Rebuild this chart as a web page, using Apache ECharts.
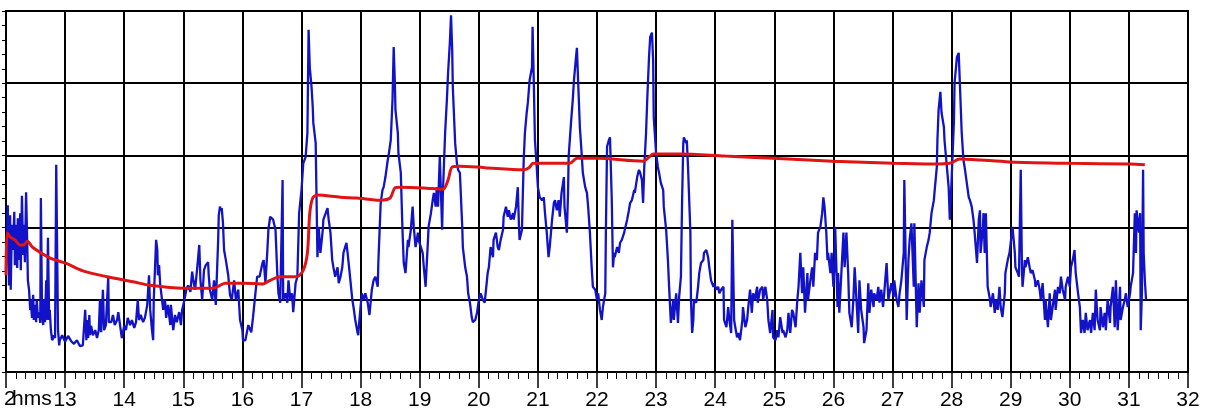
<!DOCTYPE html>
<html>
<head>
<meta charset="utf-8">
<script src="https://cdn.jsdelivr.net/npm/echarts@6/dist/echarts.min.js"></script>
<style>
html,body{margin:0;padding:0;background:#fff;}
#chart{width:1210px;height:412px;}
</style>
</head>
<body>
<div id="chart"></div>
<script>
// Blue signal: [hours, level]
const blue12to16 = [[12.00,1.41],[12.02,1.97],[12.03,2.31],[12.05,1.20],[12.07,2.17],[12.08,1.14],[12.10,2.04],[12.12,1.69],[12.14,2.22],[12.15,1.48],[12.17,2.04],[12.19,1.44],[12.20,2.13],[12.22,1.55],[12.24,2.20],[12.25,1.41],[12.27,2.44],[12.29,1.62],[12.30,2.04],[12.32,1.52],[12.34,2.49],[12.36,1.76],[12.37,1.27],[12.39,1.14],[12.41,0.86],[12.42,1.00],[12.44,0.75],[12.46,1.07],[12.47,0.72],[12.49,0.93],[12.51,0.69],[12.52,1.00],[12.54,0.75],[12.56,0.83],[12.58,0.68],[12.59,2.41],[12.61,0.79],[12.63,0.65],[12.64,1.00],[12.66,0.69],[12.68,1.27],[12.69,0.72],[12.71,1.86],[12.73,0.72],[12.74,0.86],[12.76,0.58],[12.78,0.44],[12.80,0.47],[12.81,0.51],[12.83,0.47],[12.85,2.87],[12.86,2.11],[12.88,0.58],[12.90,0.37],[12.91,0.44],[12.95,0.51],[13.00,0.42],[13.05,0.50],[13.10,0.43],[13.15,0.39],[13.20,0.44],[13.25,0.36],[13.30,0.37],[13.34,0.86],[13.36,0.44],[13.37,0.72],[13.39,0.47],[13.41,0.79],[13.42,0.51],[13.44,0.64],[13.47,0.51],[13.51,0.58],[13.54,0.47],[13.57,0.58],[13.59,1.00],[13.61,0.55],[13.64,1.14],[13.66,0.58],[13.69,0.65],[13.73,1.32],[13.74,0.69],[13.78,0.69],[13.81,0.79],[13.84,0.65],[13.88,0.72],[13.90,0.83],[13.93,0.65],[13.96,0.47],[14.00,0.64],[14.03,0.58],[14.06,0.75],[14.10,0.65],[14.13,0.72],[14.17,0.61],[14.20,0.69],[14.23,1.00],[14.25,0.72],[14.28,0.79],[14.32,0.69],[14.35,0.75],[14.39,0.93],[14.42,1.34],[14.44,0.86],[14.47,0.58],[14.49,0.44],[14.50,1.00],[14.52,1.41],[14.54,1.83],[14.56,1.69],[14.57,1.34],[14.59,1.48],[14.61,1.20],[14.62,1.14],[14.64,1.00],[14.66,0.86],[14.69,1.00],[14.71,0.75],[14.74,0.93],[14.78,0.65],[14.79,0.93],[14.83,0.58],[14.86,0.79],[14.89,0.69],[14.93,0.83],[14.96,0.65],[14.98,0.86],[15.02,1.00],[15.05,1.14],[15.08,1.20],[15.12,1.11],[15.15,1.39],[15.17,1.27],[15.20,1.14],[15.24,1.48],[15.27,1.76],[15.29,1.27],[15.32,1.00],[15.35,1.41],[15.38,1.48],[15.42,1.52],[15.43,1.34],[15.45,1.14],[15.49,1.00],[15.52,1.27],[15.55,0.93],[15.59,1.83],[15.60,2.17],[15.62,2.29],[15.64,2.24],[15.65,2.27],[15.67,2.08],[15.69,1.69],[15.72,1.55],[15.76,1.34],[15.79,1.07],[15.82,1.00],[15.86,1.27],[15.89,1.00],[15.93,1.14],[15.96,0.72],[16.00,0.58],[16.01,0.44]];
const blue16to20 = [[16.05,0.44],[16.10,0.65],[16.15,0.55],[16.18,0.76],[16.22,1.09],[16.25,1.32],[16.29,1.32],[16.34,1.51],[16.36,1.55],[16.39,1.23],[16.42,1.65],[16.44,1.97],[16.47,2.15],[16.52,2.11],[16.56,1.97],[16.59,1.37],[16.61,1.09],[16.64,0.96],[16.68,2.66],[16.69,1.00],[16.73,1.09],[16.76,0.96],[16.78,1.27],[16.81,1.00],[16.84,1.09],[16.86,0.83],[16.90,1.23],[16.93,1.32],[16.96,2.20],[17.00,2.52],[17.03,2.89],[17.07,2.98],[17.10,3.31],[17.12,4.74],[17.14,4.22],[17.17,3.95],[17.19,3.67],[17.20,3.45],[17.24,3.17],[17.27,1.59],[17.29,2.01],[17.32,1.65],[17.36,1.97],[17.37,2.11],[17.41,2.20],[17.44,2.27],[17.46,2.11],[17.49,1.93],[17.52,1.55],[17.54,1.45],[17.57,1.32],[17.61,1.45],[17.63,1.23],[17.66,1.32],[17.69,1.45],[17.71,1.65],[17.76,1.79],[17.78,1.65],[17.81,1.41],[17.86,1.00],[17.88,0.90],[17.91,0.72],[17.95,0.54],[17.96,0.51],[17.98,0.72],[18.02,1.09],[18.05,1.00],[18.08,1.09],[18.12,0.96],[18.15,0.79],[18.19,1.14],[18.22,1.27],[18.25,1.32],[18.29,1.18],[18.30,1.51],[18.34,2.34],[18.37,2.52],[18.39,2.56],[18.42,2.70],[18.46,2.94],[18.47,2.98],[18.51,3.21],[18.54,3.77],[18.56,4.50],[18.58,4.00],[18.59,3.63],[18.63,3.31],[18.64,3.03],[18.68,2.76],[18.71,1.93],[18.73,1.51],[18.76,1.37],[18.80,1.83],[18.81,1.73],[18.85,1.97],[18.88,2.29],[18.90,2.01],[18.93,1.73],[18.97,1.93],[18.98,1.83],[19.02,1.73],[19.05,1.65],[19.07,1.45],[19.10,1.18],[19.14,1.83],[19.15,2.01],[19.19,2.20],[19.22,2.38],[19.24,2.48],[19.27,2.29],[19.29,2.56],[19.31,2.29],[19.34,2.98],[19.38,1.97],[19.39,2.42],[19.43,3.31],[19.46,3.77],[19.48,4.14],[19.51,4.56],[19.53,4.94],[19.55,4.46],[19.56,3.95],[19.60,3.17],[19.63,2.89],[19.65,2.80],[19.68,2.76],[19.72,2.01],[19.73,1.73],[19.77,1.45],[19.80,1.32],[19.82,1.09],[19.85,0.96],[19.88,0.76],[19.90,0.69],[19.94,0.72],[19.97,0.82],[20.00,1.00]];
const blue20to24 = [[20.03,1.09],[20.05,1.09],[20.07,1.00],[20.10,0.96],[20.15,1.37],[20.17,1.45],[20.20,1.73],[20.24,1.59],[20.25,1.83],[20.29,1.93],[20.32,1.73],[20.34,1.69],[20.37,1.83],[20.41,1.97],[20.42,2.15],[20.46,2.29],[20.49,2.15],[20.51,2.24],[20.54,2.11],[20.58,2.20],[20.59,2.11],[20.63,2.29],[20.66,2.56],[20.68,2.01],[20.69,1.83],[20.73,1.97],[20.76,2.94],[20.78,3.31],[20.81,3.59],[20.83,3.73],[20.86,4.04],[20.90,4.22],[20.91,4.78],[20.93,4.04],[20.95,3.21],[20.98,2.84],[21.00,2.56],[21.03,2.42],[21.07,2.38],[21.10,2.42],[21.12,2.20],[21.15,1.93],[21.18,1.59],[21.20,1.73],[21.24,2.11],[21.27,2.34],[21.29,2.38],[21.32,2.24],[21.35,2.38],[21.37,2.15],[21.40,2.48],[21.44,2.70],[21.45,2.29],[21.49,1.93],[21.51,2.48],[21.52,2.98],[21.56,3.45],[21.59,3.77],[21.61,4.04],[21.64,4.32],[21.66,4.49],[21.68,4.04],[21.71,3.39],[21.74,3.03],[21.76,2.76],[21.80,2.56],[21.83,2.48],[21.85,2.29],[21.88,1.93],[21.91,1.45],[21.93,1.18],[21.97,1.14],[22.00,1.00],[22.02,1.09],[22.05,0.86],[22.08,0.72],[22.10,0.90],[22.14,1.09],[22.15,1.93],[22.17,3.12],[22.20,3.21],[22.22,3.25],[22.25,2.38],[22.27,1.45],[22.29,1.65],[22.30,1.59],[22.34,1.73],[22.37,1.65],[22.39,1.79],[22.42,1.83],[22.46,1.93],[22.47,1.97],[22.51,2.11],[22.54,2.24],[22.56,2.34],[22.59,2.38],[22.63,2.52],[22.64,2.48],[22.68,2.70],[22.71,2.80],[22.73,2.76],[22.76,2.66],[22.78,2.34],[22.80,2.84],[22.83,3.31],[22.85,3.77],[22.88,4.36],[22.90,4.64],[22.93,4.70],[22.95,4.32],[22.96,3.53],[23.00,3.03],[23.03,2.84],[23.05,2.76],[23.08,2.62],[23.12,2.52],[23.13,2.29],[23.17,1.97],[23.20,1.55],[23.22,1.18],[23.25,0.68],[23.29,1.00],[23.30,0.72],[23.34,1.09],[23.37,0.68],[23.39,1.04],[23.42,1.32],[23.44,2.38],[23.46,3.17],[23.47,3.25],[23.51,3.17],[23.52,3.21],[23.54,2.84],[23.58,1.93],[23.59,1.00],[23.61,0.54],[23.63,0.72],[23.64,1.00],[23.68,0.96],[23.71,1.18],[23.73,1.37],[23.76,1.51],[23.80,1.55],[23.81,1.65],[23.85,1.69],[23.88,1.59],[23.90,1.45],[23.93,1.27],[23.97,1.18],[23.98,1.23],[24.02,1.14]];
const blue24to28 = [[24.05,1.18],[24.07,1.09],[24.10,1.14],[24.14,1.18],[24.15,0.72],[24.19,0.62],[24.22,0.90],[24.24,0.72],[24.27,0.54],[24.29,2.11],[24.32,0.72],[24.34,0.62],[24.37,0.48],[24.39,0.54],[24.42,0.44],[24.46,0.72],[24.47,0.90],[24.51,0.62],[24.54,0.72],[24.56,0.90],[24.59,1.14],[24.62,0.82],[24.64,1.09],[24.67,1.00],[24.71,1.18],[24.72,0.96],[24.76,1.14],[24.80,1.18],[24.81,1.00],[24.85,1.18],[24.88,1.00],[24.90,0.72],[24.93,0.54],[24.97,0.86],[24.98,0.48],[25.02,0.44],[25.05,0.58],[25.07,0.48],[25.10,0.76],[25.14,0.54],[25.15,0.58],[25.19,0.48],[25.22,0.58],[25.24,0.82],[25.27,0.54],[25.30,0.86],[25.32,0.82],[25.36,0.62],[25.39,1.00],[25.41,1.18],[25.44,1.65],[25.47,1.09],[25.49,1.45],[25.52,0.82],[25.56,1.37],[25.57,1.00],[25.61,1.27],[25.64,1.45],[25.66,1.18],[25.69,1.65],[25.72,1.55],[25.74,1.93],[25.78,2.01],[25.81,2.20],[25.83,2.42],[25.85,2.29],[25.88,1.93],[25.90,1.55],[25.91,1.65],[25.95,1.37],[25.97,1.65],[26.00,1.18],[26.02,1.51],[26.03,2.01],[26.07,0.90],[26.08,1.37],[26.10,0.82],[26.14,1.45],[26.17,1.93],[26.19,1.45],[26.22,1.93],[26.25,1.37],[26.27,0.82],[26.31,0.62],[26.34,1.04],[26.36,1.45],[26.39,1.00],[26.42,0.54],[26.44,1.27],[26.47,0.86],[26.51,0.62],[26.52,0.40],[26.56,0.58],[26.59,1.23],[26.61,0.82],[26.64,1.14],[26.68,0.90],[26.69,1.09],[26.73,1.00],[26.76,1.18],[26.78,0.96],[26.81,1.14],[26.84,0.90],[26.86,1.09],[26.90,1.51],[26.93,1.00],[26.95,1.09],[26.98,1.23],[27.02,1.04],[27.03,1.27],[27.07,1.00],[27.10,0.90],[27.12,1.09],[27.15,1.27],[27.19,1.65],[27.20,2.66],[27.24,0.72],[27.27,1.55],[27.29,1.83],[27.32,2.06],[27.36,1.18],[27.37,2.06],[27.41,0.62],[27.44,1.23],[27.46,0.82],[27.49,1.27],[27.53,0.90],[27.54,1.55],[27.58,1.73],[27.61,1.83],[27.63,1.93],[27.66,2.20],[27.70,2.38],[27.71,2.48],[27.75,2.84],[27.76,3.21],[27.78,3.63],[27.81,3.88],[27.83,3.59],[27.87,3.39],[27.88,3.21],[27.92,2.84],[27.95,2.56],[27.97,2.11],[28.00,2.66]];
const blue28to32 = [[28.04,3.49],[28.05,4.00],[28.09,4.36],[28.12,4.42],[28.14,4.00],[28.17,3.33],[28.20,2.94],[28.22,2.84],[28.25,2.66],[28.29,2.42],[28.31,2.38],[28.34,2.29],[28.37,2.11],[28.39,1.93],[28.43,1.51],[28.46,2.11],[28.48,2.24],[28.49,1.65],[28.53,2.01],[28.54,2.20],[28.56,1.65],[28.58,2.20],[28.61,1.18],[28.65,1.00],[28.66,0.90],[28.70,1.09],[28.73,0.82],[28.75,1.00],[28.78,0.86],[28.81,1.18],[28.83,0.90],[28.86,0.76],[28.90,1.09],[28.91,1.37],[28.95,1.55],[28.98,1.65],[29.00,1.79],[29.03,2.01],[29.07,1.65],[29.08,1.45],[29.12,1.37],[29.14,1.32],[29.17,2.80],[29.19,1.45],[29.20,1.18],[29.24,1.55],[29.25,1.45],[29.29,1.59],[29.32,1.45],[29.34,1.37],[29.37,1.41],[29.41,1.27],[29.42,1.18],[29.46,1.27],[29.49,1.14],[29.51,1.00],[29.54,1.23],[29.58,0.72],[29.59,1.00],[29.63,0.62],[29.66,1.09],[29.68,0.72],[29.71,0.90],[29.75,1.14],[29.76,0.86],[29.80,1.18],[29.83,1.09],[29.85,1.32],[29.88,1.14],[29.92,1.00],[29.93,1.18],[29.97,1.32],[30.00,1.18],[30.02,1.45],[30.05,1.55],[30.08,1.69],[30.10,1.37],[30.14,1.09],[30.17,0.90],[30.19,0.54],[30.22,0.72],[30.25,0.54],[30.27,0.82],[30.30,0.58],[30.34,0.72],[30.36,0.54],[30.39,0.82],[30.42,0.58],[30.44,1.14],[30.47,0.72],[30.51,0.58],[30.52,0.90],[30.56,0.62],[30.59,0.82],[30.61,0.58],[30.64,1.00],[30.68,0.68],[30.69,0.90],[30.73,1.18],[30.76,0.62],[30.78,1.27],[30.81,0.58],[30.85,1.18],[30.86,0.72],[30.90,0.90],[30.93,1.00],[30.95,1.09],[30.98,0.90],[31.02,1.09],[31.03,1.18],[31.07,1.37],[31.10,2.20],[31.12,1.65],[31.13,2.24],[31.17,1.93],[31.19,2.20],[31.20,0.58],[31.22,1.09],[31.24,2.80],[31.25,1.65],[31.27,1.27],[31.29,1.00]];

// Red trend: [hours, level]
const redTrend = [[12.00,1.34],[12.02,1.93],[12.07,1.87],[12.15,1.83],[12.24,1.76],[12.30,1.76],[12.36,1.81],[12.46,1.72],[12.74,1.58],[13.03,1.50],[13.30,1.40],[13.71,1.32],[14.15,1.25],[14.44,1.20],[15.00,1.16],[15.50,1.16],[15.62,1.20],[15.71,1.23],[16.05,1.23],[16.35,1.22],[16.47,1.27],[16.64,1.32],[16.92,1.32],[17.03,1.41],[17.10,1.65],[17.14,2.20],[17.19,2.41],[17.27,2.45],[17.66,2.42],[17.94,2.41],[18.33,2.38],[18.50,2.41],[18.58,2.55],[18.67,2.56],[19.06,2.55],[19.39,2.53],[19.48,2.66],[19.55,2.84],[19.68,2.85],[20.10,2.83],[20.75,2.80],[20.85,2.83],[20.92,2.89],[21.15,2.89],[21.54,2.89],[21.66,2.96],[22.00,2.96],[22.78,2.92],[22.90,2.99],[22.95,3.02],[23.40,3.02],[24.17,2.99],[24.98,2.96],[25.99,2.92],[27.01,2.89],[27.69,2.88],[27.97,2.89],[28.14,2.95],[28.98,2.91],[30.00,2.89],[31.02,2.88],[31.27,2.87]];

const xMin = 12, xMax = 32, xStep = 1;
const yMin = 0, yMax = 5, yStep = 1;
const unitLabel = 'hms';

const blueSignal = [].concat(blue12to16, blue16to20, blue20to24, blue24to28, blue28to32);

const chart = echarts.init(document.getElementById('chart'), null, {renderer: 'canvas'});
const FONT = 'Liberation Sans, Arial, sans-serif';
chart.setOption({
  animation: false,
  backgroundColor: '#fff',
  grid: {left: 6, right: 22, top: 11, bottom: 40, show: true, borderColor: '#000', borderWidth: 2, backgroundColor: '#fff'},
  xAxis: {
    type: 'value', min: xMin, max: xMax, interval: xStep,
    axisLine: {show: true, onZero: false, lineStyle: {color: '#000', width: 2}},
    axisTick: {show: true, length: 16, lineStyle: {color: '#000', width: 1.5}},
    minorTick: {show: true, splitNumber: 6, length: 7, lineStyle: {color: '#000', width: 1}},
    axisLabel: {margin: 18, fontSize: 21, color: '#000', fontFamily: FONT,
      formatter: v => v === xMin ? '' : String(v)},
    splitLine: {show: true, lineStyle: {color: '#000', width: 2}},
    minorSplitLine: {show: false}
  },
  yAxis: {
    type: 'value', min: yMin, max: yMax, interval: yStep,
    axisLine: {show: true, onZero: false, lineStyle: {color: '#000', width: 2}},
    axisTick: {show: true, length: 4, lineStyle: {color: '#000', width: 1}},
    minorTick: {show: true, splitNumber: 5, length: 4, lineStyle: {color: '#000', width: 1}},
    axisLabel: {show: false},
    splitLine: {show: true, lineStyle: {color: '#000', width: 2}}
  },
  graphic: [
    {type: 'text', left: 4, top: 389, silent: true, style: {text: String(xMin).slice(-1), font: '21px ' + FONT, fill: '#000'}},
    {type: 'text', left: 12, top: 389, silent: true, style: {text: unitLabel, font: '21px ' + FONT, fill: '#000'}}
  ],
  series: [
    {type: 'line', data: blueSignal, showSymbol: false, symbol: 'none', sampling: null,
      lineStyle: {color: '#1212c8', width: 2.3}, z: 3},
    {type: 'line', data: redTrend, showSymbol: false, symbol: 'none', smooth: 0.3,
      lineStyle: {color: '#e01414', width: 3}, z: 4}
  ]
});
</script>
</body>
</html>
